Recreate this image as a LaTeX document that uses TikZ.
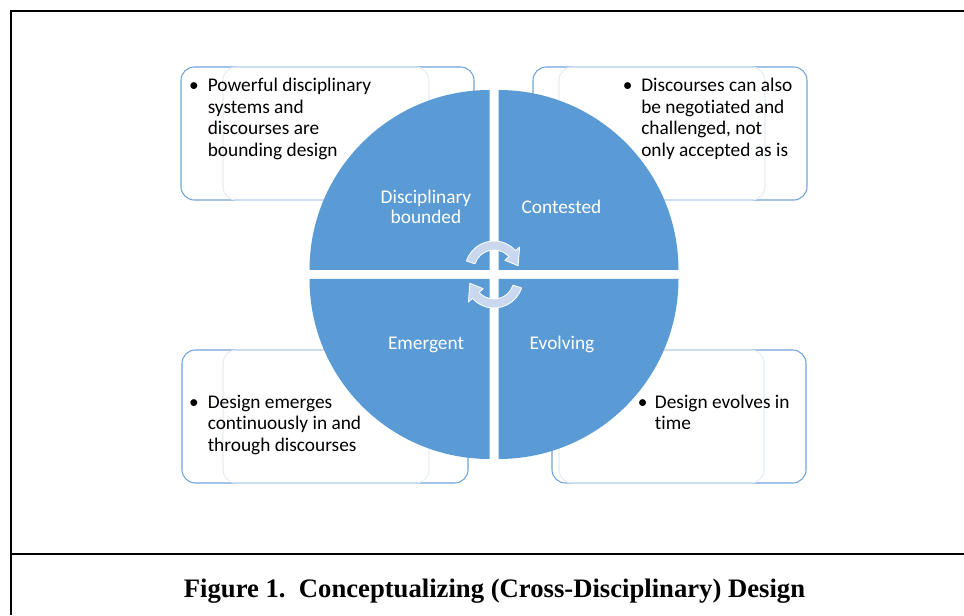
\documentclass[tikz,border=0pt]{standalone}
\usepackage{fontspec}
\setmainfont{Carlito}[Ligatures={NoCommon,NoContextual}]
\newfontfamily\capfont{Liberation Serif}
\definecolor{quadblue}{HTML}{5B9BD5}
\definecolor{boxline}{HTML}{6FA3D9}
\definecolor{boxghost}{HTML}{E6EDF7}
\definecolor{cyclefill}{HTML}{C9D8EE}
% keep t and i as separate glyphs
\newcommand{\tsep}{\kern0pt }
\begin{document}
\begin{tikzpicture}[x=0.75pt,y=0.75pt,
  rule/.style={line width=1.7pt, black},
  notebox/.style={draw=boxline, line width=0.8pt, fill=white, rounded corners=10pt},
  ghostbox/.style={draw=boxghost, line width=0.8pt, rounded corners=10pt},
  quadrant/.style={fill=quadblue},
  quadlabel/.style={font=\fontsize{14.5}{16}\selectfont, text=white, inner sep=0pt},
  notetext/.style={font=\fontsize{14.5}{16.1}\selectfont, text=black, inner sep=0pt, anchor=base west},
  dot/.style={font=\fontsize{14.5}{16}\selectfont, text=black, inner sep=0pt, anchor=base},
  cyclearrow/.style={fill=cyclefill, draw=white, line width=0.6pt, line join=round},
  caption/.style={font=\capfont\bfseries\fontsize{20}{24}\selectfont, inner sep=0pt, anchor=base}
]
\useasboundingbox (0,0) rectangle (964,615);

% page frame and caption rule
\draw[rule] (964,604) -- (11,604) -- (11,0);
\draw[rule] (11,61) -- (964,61);

% note boxes (outer outline with a faint inner panel)
\draw[notebox]  (181,415) rectangle (474,548);
\draw[ghostbox] (223,415) rectangle (429,548);
\draw[notebox]  (533,415) rectangle (807,548);
\draw[ghostbox] (559,415) rectangle (765,548);
\draw[notebox]  (182,132) rectangle (468,265);
\draw[ghostbox] (223,132) rectangle (429,265);
\draw[notebox]  (552,132) rectangle (806,265);
\draw[ghostbox] (559,132) rectangle (764,265);

% four quarter discs around the centre
\fill[quadrant] (489.5,345) -- ++(0,180) arc[start angle=90, end angle=180, radius=180] -- cycle;
\fill[quadrant] (498.5,345) -- ++(180,0) arc[start angle=0, end angle=90, radius=180] -- cycle;
\fill[quadrant] (489.5,336) -- ++(-180,0) arc[start angle=180, end angle=270, radius=180] -- cycle;
\fill[quadrant] (498.5,336) -- ++(0,-180) arc[start angle=270, end angle=360, radius=180] -- cycle;

% circular arrows in the middle
\coordinate (hub) at (494,340.5);
\foreach \turn in {0,180}{
  \begin{scope}[rotate around={\turn:(hub)}, shift={(494,345)}]
    \draw[cyclearrow] (162:29) arc[start angle=162, end angle=42, radius=29]
      -- (42:34.5) -- (10:24.5) -- (42:14.5) -- (42:20)
      arc[start angle=42, end angle=162, radius=20] -- cycle;
  \end{scope}
}

% quadrant labels
\node[quadlabel, anchor=base] (qtl) at (426,411.7)
  {\begin{tabular}[t]{@{}c@{}}Disciplinary\\[-0.8pt]bounded\end{tabular}};
\node[quadlabel, anchor=base] (qtr) at (561.5,401.7) {Contested};
\node[quadlabel, anchor=base] (qbl) at (426,266) {Emergent};
\node[quadlabel, anchor=base] (qbr) at (562,266) {Evolving};

% bullet notes
\node[dot] (tlbul) at (194,523.3) {•};
\node[notetext] (tltext) at (207.5,523.3)
  {\begin{tabular}[t]{@{}l@{}}Powerful disciplinary\\systems and\\discourses are\\bounding design\end{tabular}};
\node[dot] (trbul) at (627.7,523.3) {•};
\node[notetext] (trtext) at (641,523.3)
  {\begin{tabular}[t]{@{}l@{}}Discourses can also\\be negot\tsep iated and\\challenged, not\\only accepted as is\end{tabular}};
\node[dot] (blbul) at (194,206.7) {•};
\node[notetext] (bltext) at (207.5,206.7)
  {\begin{tabular}[t]{@{}l@{}}Design emerges\\cont\tsep inuously in and\\through discourses\end{tabular}};
\node[dot] (brbul) at (642.7,206.7) {•};
\node[notetext] (brtext) at (654.7,206.7)
  {\begin{tabular}[t]{@{}l@{}}Design evolves in\\t\tsep ime\end{tabular}};

% caption
\node[caption] (cap) at (494.5,18) {Figure 1.\ \ Conceptualizing (Cross-Disciplinary) Design};
\end{tikzpicture}
\end{document}
